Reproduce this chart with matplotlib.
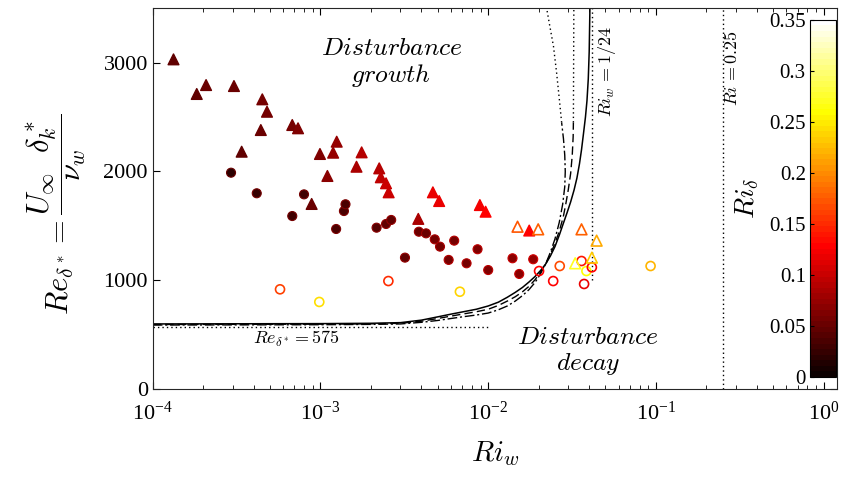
import numpy as np
import matplotlib
matplotlib.use("Agg")
import matplotlib.pyplot as plt
from matplotlib.ticker import FuncFormatter, FixedLocator, LogLocator, NullFormatter

plt.rcParams['mathtext.fontset'] = 'cm'
plt.rcParams['font.family'] = ['Liberation Serif', 'DejaVu Serif']

# filled triangles: Ri_w, Re_delta*, Ri_delta
tri_ri = [1.33e-4, 1.83e-4, 2.08e-4, 3.05e-4, 3.39e-4, 4.41e-4, 4.50e-4, 4.80e-4, 6.79e-4,
          7.35e-4, 8.86e-4, 9.93e-4, 1.10e-3, 1.19e-3, 1.25e-3, 1.64e-3, 1.76e-3, 2.24e-3,
          2.29e-3, 2.46e-3, 2.55e-3, 3.83e-3, 4.68e-3, 5.10e-3, 8.92e-3, 9.65e-3, 1.756e-2]
tri_re = [3030, 2712, 2794, 2785, 2182, 2381, 2663, 2549, 2427,
          2397, 1702, 2161, 1959, 2173, 2274, 2044, 2176, 2029,
          1947, 1892, 1809, 1565, 1809, 1729, 1692, 1631, 1458]
tri_c = [0.045, 0.045, 0.05, 0.05, 0.045, 0.05, 0.055, 0.055, 0.06,
         0.065, 0.05, 0.065, 0.07, 0.075, 0.075, 0.085, 0.09, 0.09,
         0.095, 0.10, 0.10, 0.085, 0.115, 0.12, 0.125, 0.13, 0.13]

# filled circles
cir_ri = [2.93e-4, 4.17e-4, 6.79e-4, 7.98e-4, 1.24e-3, 1.38e-3, 1.41e-3, 2.16e-3, 2.46e-3,
          2.64e-3, 3.19e-3, 3.86e-3, 4.26e-3, 4.80e-3, 5.16e-3, 5.81e-3, 6.27e-3, 7.43e-3,
          8.64e-3, 1.00e-2, 1.396e-2, 1.531e-2, 1.855e-2]
cir_re = [1989, 1800, 1591, 1790, 1472, 1637, 1699, 1484, 1518,
          1555, 1209, 1447, 1432, 1377, 1310, 1188, 1365, 1157,
          1286, 1095, 1203, 1059, 1194]
cir_c = [0.02, 0.025, 0.03, 0.03, 0.035, 0.035, 0.035, 0.04, 0.045,
         0.045, 0.045, 0.05, 0.05, 0.055, 0.055, 0.06, 0.06, 0.06,
         0.065, 0.065, 0.07, 0.07, 0.075]

# open circles
ocir_ri = [5.74e-4, 9.84e-4, 2.54e-3, 6.78e-3, 0.0201, 0.0244, 0.0267, 0.0360, 0.0373, 0.0385, 0.0415, 0.0929]
ocir_re = [918, 802, 994, 896, 1086, 994, 1132, 1178, 967, 1086, 1120, 1132]
ocir_c = [0.16, 0.245, 0.15, 0.24, 0.13, 0.13, 0.165, 0.14, 0.115, 0.26, 0.13, 0.22]

# open triangles
otri_ri = [0.01496, 0.01986, 0.0360, 0.0443, 0.0415, 0.0330]
otri_re = [1493, 1469, 1469, 1365, 1209, 1157]
otri_c = [0.17, 0.18, 0.175, 0.215, 0.235, 0.27]

# neutral curves
solid_ri = [1e-4, 1e-3, 2e-3, 3e-3, 4e-3, 5e-3, 6e-3, 7e-3, 8.5e-3, 0.01, 0.0115, 0.013, 0.0145,
            0.016, 0.0175, 0.019, 0.0205, 0.022, 0.0235, 0.025, 0.0266, 0.028, 0.0295, 0.031,
            0.0325, 0.0338, 0.035, 0.036, 0.037, 0.038, 0.0388, 0.0395, 0.040, 0.0404]
solid_re = [600, 603, 606, 612, 635, 665, 690, 710, 735, 765, 800, 845, 890,
            935, 985, 1035, 1090, 1150, 1225, 1310, 1420, 1520, 1620, 1720,
            1830, 1940, 2070, 2200, 2350, 2500, 2650, 2850, 3100, 3500]
dash_ri = [1e-4, 1e-3, 2e-3, 3e-3, 4e-3, 5e-3, 6e-3, 7e-3, 8.5e-3, 0.01, 0.0115, 0.013, 0.0145,
           0.016, 0.0175, 0.019, 0.0205, 0.022, 0.0235, 0.025, 0.0265, 0.028, 0.029, 0.030,
           0.031, 0.0317, 0.0321, 0.0322]
dash_re = [595, 598, 601, 606, 625, 650, 672, 690, 712, 735, 770, 810, 850,
           895, 945, 1005, 1075, 1150, 1240, 1340, 1450, 1580, 1700, 1830,
           1980, 2150, 2320, 2450]
dash_top_ri = [0.0322, 0.0324]
dash_top_re = [2450, 3500]
dd_ri = [1e-4, 1e-3, 2e-3, 3e-3, 4e-3, 5e-3, 6e-3, 7e-3, 8.5e-3, 0.01, 0.0115, 0.013, 0.0145,
         0.016, 0.0175, 0.019, 0.0205, 0.022, 0.0235, 0.025, 0.0265, 0.0278, 0.0286, 0.0288,
         0.0286, 0.0281, 0.0274]
dd_re = [590, 593, 596, 600, 615, 632, 650, 665, 682, 700, 730, 765, 810,
         860, 915, 980, 1060, 1150, 1260, 1380, 1530, 1700, 1860, 2000,
         2150, 2300, 2450]
dd_top_ri = [0.0274, 0.0266, 0.0256, 0.0245, 0.0232, 0.0223]
dd_top_re = [2450, 2650, 2900, 3150, 3350, 3500]

cmap = plt.get_cmap('hot', 64)
norm = plt.Normalize(0, 0.35)
dots = (0, (1, 2.2))

fig = plt.figure(figsize=(8.41, 4.8), dpi=100)
ax = fig.add_axes([0.1816, 0.189, 0.8136, 0.794])

ax.plot(solid_ri, solid_re, color='k', lw=1.1)
ax.plot(dash_ri, dash_re, color='k', lw=1.0, ls=(0, (6, 3)))
ax.plot(dash_top_ri, dash_top_re, color='k', lw=1.0, ls=dots)
ax.plot(dd_ri, dd_re, color='k', lw=1.0, ls=(0, (7, 2, 1.5, 2)))
ax.plot(dd_top_ri, dd_top_re, color='k', lw=1.0, ls=dots)

ax.plot([1e-4, 1e-2], [575, 575], color='k', lw=1.0, ls=dots)
ax.plot([1/24, 1/24], [1000, 3500], color='k', lw=1.0, ls=dots)
ax.plot([0.25, 0.25], [0, 3500], color='k', lw=1.0, ls=dots)

sc = ax.scatter(tri_ri, tri_re, c=tri_c, cmap=cmap, norm=norm, marker='^', s=60,
                edgecolors='face', zorder=3)
ax.scatter(cir_ri, cir_re, c=cir_c, cmap=cmap, norm=norm, marker='o', s=42,
           edgecolors=cmap(norm(np.array(cir_c) + 0.03)), linewidths=0.8, zorder=3)
ax.scatter(ocir_ri, ocir_re, facecolors='none', edgecolors=cmap(norm(np.array(ocir_c))),
           marker='o', s=42, linewidths=1.2, zorder=3)
ax.scatter(otri_ri, otri_re, facecolors='none', edgecolors=cmap(norm(np.array(otri_c))),
           marker='^', s=60, linewidths=1.2, zorder=3)

ax.set_xscale('log')
ax.set_xlim(1e-4, 1.2)
ax.set_ylim(0, 3500)
ax.yaxis.set_major_locator(FixedLocator([0, 1000, 2000, 3000]))
ax.xaxis.set_major_locator(LogLocator(base=10, numticks=10))
ax.xaxis.set_minor_locator(LogLocator(base=10, subs=np.arange(2, 10), numticks=20))
ax.xaxis.set_minor_formatter(NullFormatter())
ax.xaxis.set_major_formatter(FuncFormatter(lambda v, p: r'$\mathregular{10^{%d}}$' % round(np.log10(v))))
ax.tick_params(which='both', direction='in', top=True, right=True, labelsize=16)
ax.tick_params(which='major', length=5, width=0.8)
ax.tick_params(which='minor', length=3, width=0.6)
ax.tick_params(axis='x', pad=9)
for s in ax.spines.values():
    s.set_linewidth(0.8)
    s.set_color('#262626')

ax.set_xlabel(r'$Ri_w$', fontsize=21, labelpad=10)
ax.set_ylabel(r'$Re_{\delta^*} = \dfrac{U_\infty\ \ \delta_k^*}{\nu_w}$', fontsize=22, labelpad=16)
ax.yaxis.set_label_coords(-0.095, 0.46)

ax.text(2.65e-3, 2990, '$Disturbance$\n$growth$', fontsize=18.5, ha='center', va='center',
        linespacing=1.1)
ax.text(0.0393, 340, '$Disturbance$\n$decay$', fontsize=18.5, ha='center', va='center',
        linespacing=1.1)
ax.text(7.24e-4, 460, r'$Re_{\delta^*} = 575$', fontsize=13, ha='center', va='center')
ax.text(0.0513, 2914, r'$Ri_w\, = 1/24$', fontsize=13, rotation=90, ha='center', va='center')
ax.text(0.287, 2950, r'$Ri\, = 0.25$', fontsize=13, rotation=90, ha='center', va='center')

cax = fig.add_axes([0.9631, 0.2146, 0.0309, 0.744])
cb = fig.colorbar(sc, cax=cax)
cb.set_ticks([0, 0.05, 0.1, 0.15, 0.2, 0.25, 0.3, 0.35])
cb.set_ticklabels(['0', '0.05', '0.1', '0.15', '0.2', '0.25', '0.3', '0.35'])
cax.yaxis.set_ticks_position('left')
cax.yaxis.set_label_position('left')
cax.tick_params(direction='in', length=3, labelsize=15, pad=3)
cb.outline.set_linewidth(0.8)
cb.set_label(r'$Ri_\delta$', fontsize=20, labelpad=6)

fig.savefig('out.png', dpi=100)
